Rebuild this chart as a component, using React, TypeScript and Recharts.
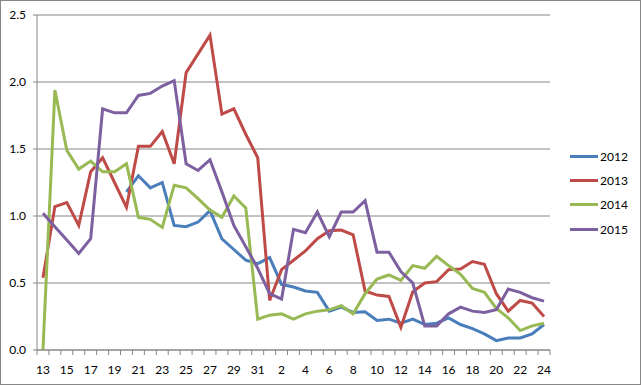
import { LineChart, Line, XAxis, YAxis, CartesianGrid } from 'recharts';

const days = [
  '13', '14', '15', '16', '17', '18', '19', '20', '21', '22', '23', '24', '25', '26', '27', '28', '29', '30', '31',
  '1', '2', '3', '4', '5', '6', '7', '8', '9', '10', '11', '12', '13', '14', '15', '16', '17', '18', '19', '20', '21', '22', '23', '24'
];

const s2012 = [
  null, null, null, null, null, null, null, 1.18, 1.30, 1.21, 1.25, 0.93, 0.92, 0.955, 1.04, 0.83, 0.75, 0.67, 0.645,
  0.69, 0.49, 0.47, 0.44, 0.43, 0.29, 0.32, 0.28, 0.285, 0.22, 0.23, 0.20, 0.23, 0.19, 0.20, 0.24, 0.19, 0.16, 0.12, 0.07, 0.09, 0.09, 0.12, 0.19
];

const s2013 = [
  0.54, 1.07, 1.10, 0.93, 1.33, 1.435, 1.25, 1.065, 1.52, 1.52, 1.63, 1.39, 2.07, 2.21, 2.35, 1.76, 1.80, 1.61, 1.435,
  0.37, 0.60, 0.67, 0.74, 0.83, 0.89, 0.895, 0.86, 0.44, 0.41, 0.40, 0.17, 0.435, 0.50, 0.51, 0.60, 0.605, 0.66, 0.64, 0.42, 0.29, 0.37, 0.35, 0.25
];

const s2014 = [
  0, 1.94, 1.49, 1.35, 1.41, 1.33, 1.33, 1.39, 0.99, 0.975, 0.915, 1.23, 1.21, 1.13, 1.045, 0.99, 1.15, 1.06, 0.23,
  0.26, 0.27, 0.23, 0.27, 0.29, 0.30, 0.33, 0.27, 0.42, 0.53, 0.56, 0.52, 0.63, 0.61, 0.70, 0.63, 0.565, 0.46, 0.43, 0.31, 0.24, 0.145, 0.18, 0.20
];

const s2015 = [
  1.02, 0.92, 0.82, 0.72, 0.83, 1.80, 1.77, 1.77, 1.90, 1.915, 1.97, 2.01, 1.39, 1.34, 1.42, 1.18, 0.93, 0.77, 0.61,
  0.42, 0.38, 0.90, 0.875, 1.03, 0.845, 1.03, 1.03, 1.115, 0.73, 0.73, 0.585, 0.50, 0.18, 0.18, 0.27, 0.32, 0.29, 0.28, 0.30, 0.455, 0.43, 0.39, 0.365
];

const yTicks = [0, 0.5, 1.0, 1.5, 2.0, 2.5];

const SERIES = [
  { key: 'y2012', name: '2012', color: '#4A7EBB', values: s2012 },
  { key: 'y2013', name: '2013', color: '#BE4B48', values: s2013 },
  { key: 'y2014', name: '2014', color: '#98B954', values: s2014 },
  { key: 'y2015', name: '2015', color: '#7D60A0', values: s2015 },
];

const data = days.map((day, i) => {
  const row: any = { day };
  SERIES.forEach(s => { row[s.key] = s.values[i]; });
  return row;
});

const AXIS = '#868686';
const FONT = 'Lato, "Liberation Sans", sans-serif';
const PLOT_LEFT = 37;
const PLOT_RIGHT = 550;
const STEP = (PLOT_RIGHT - PLOT_LEFT) / days.length;

const XTick = ({ x, y, payload, index }: any) => {
  const last = index === days.length - 1;
  return (
    <g>
      <line x1={x - STEP / 2} x2={x - STEP / 2} y1={y} y2={y + 5} stroke={AXIS} />
      {last && <line x1={x + STEP / 2} x2={x + STEP / 2} y1={y} y2={y + 5} stroke={AXIS} />}
      {index % 2 === 0 && (
        <text x={x} y={y + 19} textAnchor="middle" dominantBaseline="central" fontSize={12} fill="#000" fontFamily={FONT}>
          {payload.value}
        </text>
      )}
    </g>
  );
};

// legend sits outside the chart so it doesn't eat plot space
const ChartLegend = () => (
  <div style={{ position: 'absolute', left: 570, top: 144, fontFamily: FONT, fontSize: 12, color: '#000' }}>
    {SERIES.map(s => (
      <div key={s.key} style={{ display: 'flex', alignItems: 'center', height: 24.3 }}>
        <div style={{ width: 28, height: 3, backgroundColor: s.color, marginRight: 2 }} />
        <span>{s.name}</span>
      </div>
    ))}
  </div>
);

export default function App() {
  return (
    <div style={{ position: 'absolute', left: 0, top: 0, width: 641, height: 385, background: '#fff' }}>
      <LineChart width={641} height={385} data={data} margin={{ top: 15, right: 641 - PLOT_RIGHT, bottom: 5, left: 0 }}>
        <CartesianGrid vertical={false} stroke={AXIS} strokeWidth={1} />
        <XAxis
          dataKey="day"
          interval={0}
          height={30}
          padding={{ left: STEP / 2, right: STEP / 2 }}
          axisLine={{ stroke: AXIS }}
          tickLine={false}
          tickSize={0}
          tickMargin={0}
          tick={<XTick />}
        />
        <YAxis
          width={PLOT_LEFT}
          domain={[0, 2.5]}
          ticks={yTicks}
          axisLine={{ stroke: AXIS }}
          tickLine={{ stroke: AXIS }}
          tickSize={4}
          tickMargin={7}
          tickFormatter={(v: number) => v.toFixed(1)}
          tick={{ fontSize: 12, fill: '#000', fontFamily: FONT }}
        />
        {SERIES.map(s => (
          <Line
            key={s.key}
            type="linear"
            dataKey={s.key}
            name={s.name}
            stroke={s.color}
            strokeWidth={3}
            dot={false}
            isAnimationActive={false}
          />
        ))}
      </LineChart>
      <ChartLegend />
      <div style={{ position: 'absolute', left: 0, top: 0, width: 641, height: 385, border: `1px solid ${AXIS}`, boxSizing: 'border-box', pointerEvents: 'none' }} />
    </div>
  );
}
